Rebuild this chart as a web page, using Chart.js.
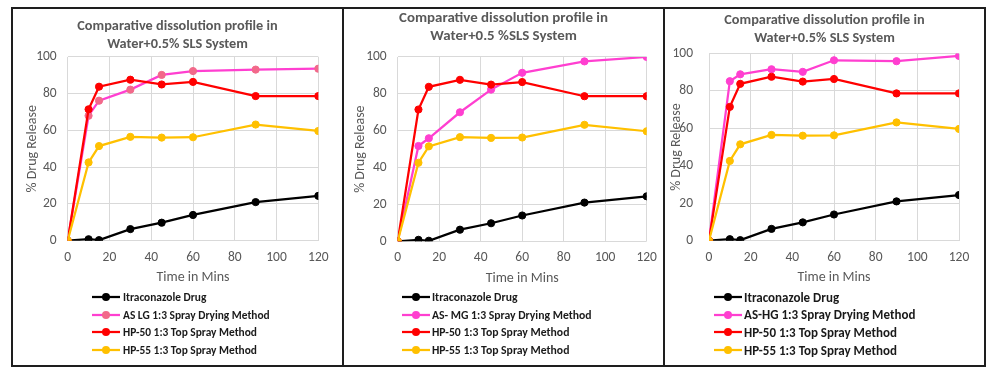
<!DOCTYPE html>
<html lang="en">
<head>
<meta charset="UTF-8">
<title>Comparative dissolution profile - Water+0.5% SLS</title>
<script src="https://cdn.jsdelivr.net/npm/chart.js"></script>
<style>
  body { margin: 0; background: #fff; font-family: Carlito, Lato, sans-serif; }
  #frame { position: absolute; left: 11px; top: 7px; width: 975px; height: 360px; border: 2px solid #1e1e1e; box-sizing: border-box; }
  .divider { position: absolute; top: 7px; width: 2px; height: 360px; background: #1e1e1e; }
  canvas { position: absolute; top: 9px; }
  .legend { position: absolute; top: 288.5px; }
  .legend div { display: flex; align-items: center; height: 17.6px; font-weight: bold; color: #1a1a1a; white-space: nowrap; }
  .legend svg { flex: none; }
</style>
</head>
<body>

<div id="frame"></div>
<div class="divider" style="left:342px"></div>
<div class="divider" style="left:663px"></div>

<canvas id="c1" width="329" height="356" style="left:13px"></canvas>
<canvas id="c2" width="319" height="356" style="left:344px"></canvas>
<canvas id="c3" width="319" height="356" style="left:665px"></canvas>

<div class="legend" id="l1" style="left:92px"></div>
<div class="legend" id="l2" style="left:402px"></div>
<div class="legend" id="l3" style="left:714px"></div>

<script>
// sampling times (min)
const times = [0, 10, 15, 30, 45, 60, 90, 120];

// % drug release
const itraconazole = [0, 0.8, 0.3, 6.3, 9.8, 14.0, 21.0, 24.4];
const hp50 = [0, 71.5, 83.8, 87.6, 85.0, 86.4, 78.7, 78.7];
const hp55 = [0, 42.6, 51.5, 56.5, 56.1, 56.3, 63.2, 59.7];
const asLG = [0, 68.0, 76.2, 82.2, 90.2, 92.3, 93.1, 93.6];
const asMG = [0, 51.7, 55.9, 70.0, 82.3, 91.4, 97.6, 100];
const asHG = [0, 85.2, 88.9, 91.6, 90.2, 96.4, 95.9, 98.7];

// tick labels
const xTicks = [0, 20, 40, 60, 80, 100, 120];
const yTicks = [0, 20, 40, 60, 80, 100];

const FONT = 'Carlito, Lato, sans-serif';
const GREY = '#595959';

function series(label, values, color, marker, order) {
    return {
        label: label,
        data: times.map((t, i) => ({ x: t, y: values[i] })),
        borderColor: color,
        backgroundColor: marker,
        pointBackgroundColor: marker,
        pointBorderColor: marker,
        borderWidth: 2.25,
        pointRadius: 3.6,
        pointHoverRadius: 3.6,
        pointBorderWidth: 1,
        tension: 0,
        order: order
    };
}

const panels = [
    { canvas: 'c1', legend: 'l1',
      title: ['Comparative dissolution profile in', 'Water+0.5% SLS System'],
      asLabel: 'AS LG 1:3 Spray Drying Method', asData: asLG, asMarker: '#f2698a',
      titleSize: 14.3, titlePad: { top: 9.2, bottom: 4.4 },
      yW: 54.7, yTitlePad: 10.6, yTickPad: 11,
      xH: 48, xTitlePad: 2.6, xTickPad: 9,
      padRight: 23.7, padBottom: 76.3, legendSize: 11.4, legendIcon: 31 },
    { canvas: 'c2', legend: 'l2',
      title: ['Comparative dissolution profile in', 'Water+0.5 %SLS System'],
      asLabel: 'AS- MG 1:3 Spray Drying Method', asData: asMG, asMarker: '#ff3fd0',
      titleSize: 14.9, titlePad: { top: 0.4, bottom: 11.8 },
      yW: 53.7, yTitlePad: 8.3, yTickPad: 11,
      xH: 48, xTitlePad: 2.2, xTickPad: 8.5,
      padRight: 16.3, padBottom: 75.7, legendSize: 11.7, legendIcon: 30 },
    { canvas: 'c3', legend: 'l3',
      title: ['Comparative dissolution profile in', 'Water+0.5% SLS System'],
      asLabel: 'AS-HG 1:3 Spray Drying Method', asData: asHG, asMarker: '#ff3fd0',
      titleSize: 14.3, titlePad: { top: 3.2, bottom: 7.0 },
      yW: 44, yTitlePad: 3.3, yTickPad: 16,
      xH: 48, xTitlePad: 2.6, xTickPad: 9,
      padRight: 25, padBottom: 76.3, legendSize: 13, legendIcon: 30 }
];

panels.forEach(p => {
    const datasets = [
        series('Itraconazole Drug', itraconazole, '#000000', '#000000', 3),
        series(p.asLabel, p.asData, '#ff3fd0', p.asMarker, 2),
        series('HP-50 1:3 Top Spray Method', hp50, '#ff0000', '#ff0000', 1),
        series('HP-55 1:3 Top Spray Method', hp55, '#ffc000', '#ffc000', 0)
    ];

    new Chart(document.getElementById(p.canvas), {
        type: 'line',
        data: { datasets: datasets },
        options: {
            responsive: false,
            animation: false,
            layout: { padding: { left: 0, top: 0, right: 0, bottom: p.padBottom } },
            plugins: {
                legend: { display: false },
                tooltip: { enabled: false },
                title: {
                    display: true,
                    text: p.title,
                    color: GREY,
                    font: { family: FONT, size: p.titleSize, weight: 'bold', lineHeight: 1.2 },
                    padding: p.titlePad
                }
            },
            scales: {
                x: {
                    type: 'linear', min: 0, max: 120,
                    afterBuildTicks: s => { s.ticks = xTicks.map(v => ({ value: v })); },
                    // right gap kept on the axis so the title stays centred on the whole panel
                    afterFit: s => { s.height = p.xH; s.paddingRight = p.padRight; },
                    grid: { color: '#d9d9d9', lineWidth: 1, drawTicks: false },
                    border: { display: false },
                    ticks: { color: GREY, font: { family: FONT, size: 13.5 }, padding: p.xTickPad, maxRotation: 0 },
                    title: { display: true, text: 'Time in Mins', color: GREY,
                             font: { family: FONT, size: 14, lineHeight: 1.2 },
                             padding: { top: 0, bottom: p.xTitlePad } }
                },
                y: {
                    type: 'linear', min: 0, max: 100,
                    afterBuildTicks: s => { s.ticks = yTicks.map(v => ({ value: v })); },
                    afterFit: s => { s.width = p.yW; },
                    grid: { color: '#d9d9d9', lineWidth: 1, drawTicks: false },
                    border: { display: false },
                    ticks: { color: GREY, font: { family: FONT, size: 13.5 }, padding: p.yTickPad },
                    title: { display: true, text: '% Drug Release', color: GREY,
                             font: { family: FONT, size: 14, lineHeight: 1.2 },
                             padding: { top: p.yTitlePad, bottom: 0 } }
                }
            }
        }
    });

    // legend, one entry per row, in series order
    const box = document.getElementById(p.legend);
    box.style.fontSize = p.legendSize + 'px';
    datasets.forEach(ds => {
        const row = document.createElement('div');
        row.innerHTML =
            '<svg width="' + p.legendIcon + '" height="12">' +
            '<line x1="0" y1="6" x2="28" y2="6" stroke="' + ds.borderColor + '" stroke-width="2.25"/>' +
            '<circle cx="14" cy="6" r="4" fill="' + ds.pointBackgroundColor + '"/></svg>' +
            '<span>' + ds.label + '</span>';
        box.appendChild(row);
    });
});
</script>
</body>
</html>
